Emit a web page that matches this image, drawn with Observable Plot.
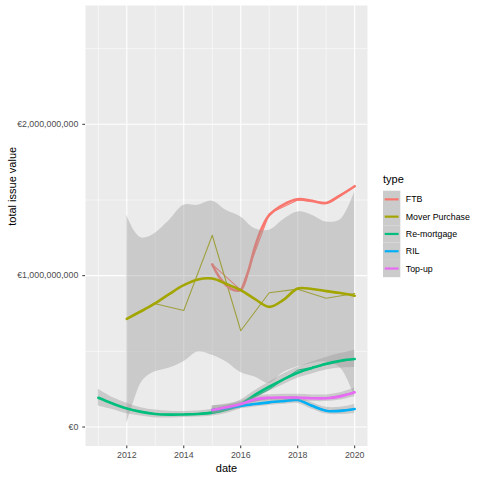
<!DOCTYPE html>
<html>
<head>
<meta charset="utf-8">
<script src="https://cdn.jsdelivr.net/npm/d3@7"></script>
<script src="https://cdn.jsdelivr.net/npm/@observablehq/plot@0.6"></script>
<style>
  body { margin: 0; background: #ffffff; }
  svg { font-family: "Liberation Sans", Arial, sans-serif; }
</style>
</head>
<body>
<script>
// ---------- data (values in € billions) ----------
const types = ["FTB", "Mover Purchase", "Re-mortgage", "RIL", "Top-up"];
const colors = ["#F8766D", "#A3A500", "#00BF7D", "#00B0F6", "#E76BF3"];

const years = [2011, 2012, 2013, 2014, 2015, 2016, 2017, 2018, 2019, 2020];
const rawFTB      = [null, null, null, null, 1.074, 0.904, 1.410, 1.500, 1.480, 1.591];
const rawMover    = [null, 0.717, 0.814, 0.770, 1.267, 0.636, 0.887, 0.911, 0.851, 0.882];
const rawRemort   = [0.193, 0.122, 0.086, 0.083, 0.095, 0.150, 0.250, 0.376, 0.412, 0.449];
const rawRIL      = [null, null, null, null, 0.112, 0.139, 0.163, 0.178, 0.108, 0.119];
const rawTopup    = [null, null, null, null, 0.112, 0.152, 0.193, 0.195, 0.190, 0.229];

// smoothed fits (loess) with confidence bands
const ftbX      = [2015, 2015.25, 2015.5, 2015.75, 2016, 2016.25, 2016.5, 2016.75, 2017, 2017.5, 2018, 2018.5, 2019, 2019.5, 2020];
const ftbFit    = [1.074, 0.990, 0.935, 0.905, 0.905, 1.020, 1.190, 1.318, 1.400, 1.470, 1.505, 1.494, 1.480, 1.531, 1.591];

const moverX    = [2012, 2012.25, 2012.5, 2012.75, 2013, 2013.5, 2014, 2014.5, 2015, 2015.5, 2016, 2016.5, 2017, 2017.5, 2018, 2018.5, 2019, 2019.5, 2020];
const moverFit  = [0.715, 0.740, 0.765, 0.790, 0.818, 0.880, 0.937, 0.975, 0.981, 0.945, 0.904, 0.845, 0.794, 0.840, 0.915, 0.912, 0.898, 0.885, 0.867];
const moverLo   = [0.020, 0.170, 0.290, 0.340, 0.365, 0.390, 0.431, 0.495, 0.475, 0.430, 0.360, 0.330, 0.288, 0.360, 0.398, 0.420, 0.430, 0.390, 0.200];
const moverHi   = [1.400, 1.300, 1.250, 1.255, 1.280, 1.366, 1.465, 1.465, 1.492, 1.430, 1.388, 1.310, 1.300, 1.370, 1.421, 1.400, 1.355, 1.370, 1.553];

const remortX   = [2011, 2011.5, 2012, 2012.5, 2013, 2013.5, 2014, 2014.5, 2015, 2015.5, 2016, 2016.5, 2017, 2017.5, 2018, 2018.5, 2019, 2019.5, 2020];
const remortFit = [0.193, 0.155, 0.122, 0.100, 0.086, 0.082, 0.083, 0.086, 0.095, 0.115, 0.150, 0.213, 0.266, 0.315, 0.359, 0.390, 0.418, 0.438, 0.449];
const remortLo  = [0.139, 0.115, 0.087, 0.072, 0.060, 0.060, 0.063, 0.066, 0.073, 0.090, 0.122, 0.186, 0.237, 0.280, 0.323, 0.350, 0.376, 0.390, 0.394];
const remortHi  = [0.249, 0.195, 0.157, 0.128, 0.112, 0.104, 0.103, 0.106, 0.117, 0.140, 0.178, 0.240, 0.295, 0.350, 0.395, 0.430, 0.460, 0.485, 0.508];

const lateX     = [2015, 2015.5, 2016, 2016.5, 2017, 2017.5, 2018, 2018.5, 2019, 2019.5, 2020];
const rilFit    = [0.112, 0.125, 0.139, 0.152, 0.163, 0.171, 0.178, 0.140, 0.108, 0.106, 0.119];
const rilLo     = [0.085, 0.103, 0.120, 0.133, 0.143, 0.150, 0.156, 0.118, 0.086, 0.082, 0.090];
const rilHi     = [0.139, 0.147, 0.158, 0.171, 0.183, 0.192, 0.200, 0.162, 0.130, 0.130, 0.148];
const topupFit  = [0.112, 0.130, 0.152, 0.183, 0.193, 0.195, 0.195, 0.190, 0.190, 0.202, 0.229];
const topupLo   = [0.085, 0.108, 0.133, 0.164, 0.173, 0.174, 0.173, 0.168, 0.168, 0.178, 0.200];
const topupHi   = [0.139, 0.152, 0.171, 0.202, 0.213, 0.216, 0.217, 0.212, 0.212, 0.226, 0.258];

const xMajor = [2012, 2014, 2016, 2018, 2020];
const xMinor = [2011, 2013, 2015, 2017, 2019];
const yMajor = [0, 1e9, 2e9];
const yMinor = [0.5e9, 1.5e9, 2.5e9];

// ---------- build tables ----------
const B = 1e9;
function rawRows(type, vals) {
  return years.map((d, i) => ({type, date: d, value: vals[i] == null ? null : vals[i] * B}))
              .filter(r => r.value != null);
}
function fitRows(type, xs, fit, lo, hi) {
  return xs.map((d, i) => ({type, date: d, value: fit[i] * B,
    lo: lo ? lo[i] * B : null, hi: hi ? hi[i] * B : null}));
}
const raw = [
  ...rawRows("FTB", rawFTB), ...rawRows("Mover Purchase", rawMover),
  ...rawRows("Re-mortgage", rawRemort), ...rawRows("RIL", rawRIL), ...rawRows("Top-up", rawTopup)
];
const fits = [
  fitRows("FTB", ftbX, ftbFit, null, null),
  fitRows("Mover Purchase", moverX, moverFit, moverLo, moverHi),
  fitRows("Re-mortgage", remortX, remortFit, remortLo, remortHi),
  fitRows("RIL", lateX, rilFit, rilLo, rilHi),
  fitRows("Top-up", lateX, topupFit, topupLo, topupHi)
];

const W = 480, H = 480;
const mL = 85, mR = 113, mT = 5, mB = 34.5;
const curve = "catmull-rom";

const smoothMarks = [];
fits.forEach(rows => {
  if (rows[0].lo != null) {
    smoothMarks.push(Plot.areaY(rows, {x: "date", y1: "lo", y2: "hi", fill: "#999999", fillOpacity: 0.4, curve}));
  }
  smoothMarks.push(Plot.line(rows, {x: "date", y: "value", stroke: "type", strokeWidth: 2.6, curve}));
});

const euro = d => "€" + d3.format(",")(d);

const svg = Plot.plot({
  width: W, height: H,
  marginLeft: mL, marginRight: mR, marginTop: mT, marginBottom: mB,
  style: {fontFamily: "'Liberation Sans', Arial, sans-serif", background: "#ffffff"},
  x: {domain: [2010.55, 2020.45]},
  y: {domain: [-0.1254e9, 2.785e9]},
  color: {domain: types, range: colors},
  marks: [
    Plot.frame({fill: "#EBEBEB", stroke: null}),
    Plot.ruleX(xMinor, {stroke: "#ffffff", strokeWidth: 0.55}),
    Plot.ruleY(yMinor, {stroke: "#ffffff", strokeWidth: 0.55}),
    Plot.ruleX(xMajor, {stroke: "#ffffff", strokeWidth: 1.1}),
    Plot.ruleY(yMajor, {stroke: "#ffffff", strokeWidth: 1.1}),
    Plot.line(raw, {x: "date", y: "value", z: "type", stroke: "type", strokeWidth: 1.07}),
    ...smoothMarks,
    Plot.axisX({ticks: xMajor, tickFormat: d => String(d), tickSize: 2.7, tickPadding: 3,
      fontSize: 8.8, color: "#4D4D4D", stroke: "#333333", label: null}),
    Plot.axisY({ticks: yMajor, tickFormat: euro, tickSize: 2.7, tickPadding: 4.5,
      fontSize: 8.8, color: "#4D4D4D", stroke: "#333333", label: null}),
    Plot.text(["date"], {frameAnchor: "bottom", dy: 26, fontSize: 11, fill: "#000000"}),
    Plot.text(["total issue value"], {frameAnchor: "left", dx: -73, rotate: -90, fontSize: 11, fill: "#000000"})
  ]
});

// ---------- legend ----------
const g = d3.select(svg).append("g").attr("aria-label", "legend").attr("text-anchor", "start");
const lx = 383, keyW = 17.3, keyH = 17.3, ly0 = 190.7;
g.append("text").attr("x", lx).attr("y", 182.5).attr("font-size", 11).attr("fill", "#000").text("type");
types.forEach((t, i) => {
  const y = ly0 + i * keyH;
  g.append("rect").attr("x", lx).attr("y", y).attr("width", keyW).attr("height", keyH)
    .attr("fill", "#CBCBCB");
  g.append("line").attr("x1", lx + 1.7).attr("x2", lx + keyW - 1.7)
    .attr("y1", y + keyH / 2).attr("y2", y + keyH / 2)
    .attr("stroke", colors[i]).attr("stroke-width", 2.2);
  g.append("text").attr("x", lx + keyW + 5.5).attr("y", y + keyH / 2).attr("dy", "0.35em")
    .attr("font-size", 8.8).attr("fill", "#000").text(t);
});

document.body.appendChild(svg);
</script>
</body>
</html>
